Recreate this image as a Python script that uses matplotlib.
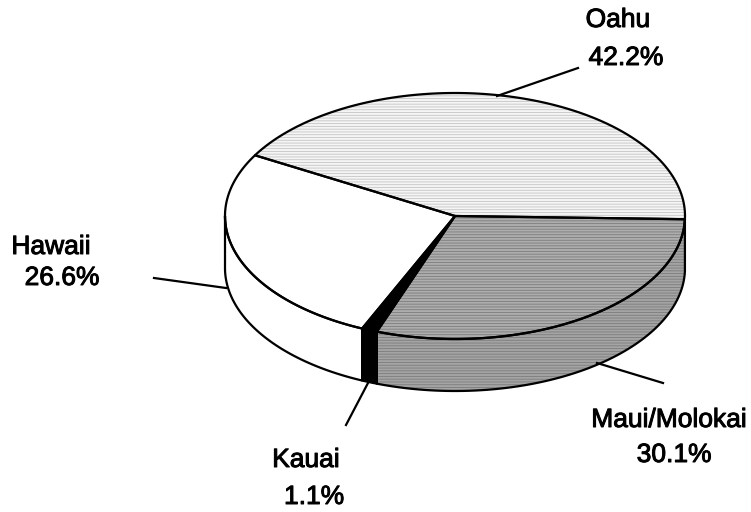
import numpy as np
import matplotlib
matplotlib.use("Agg")
import matplotlib.pyplot as plt
import matplotlib.patheffects as pe
from matplotlib.patches import Polygon

# data
regions = ["Maui/Molokai", "Kauai", "Hawaii", "Oahu"]
shares = [30.1, 1.1, 26.6, 42.2]
pct_labels = ["30.1%", "1.1%", "26.6%", "42.2%"]

# styling per slice (top face, side face, hatch colour)
top_colors = ["#adadad", "#000000", "#ffffff", "#f5f5f5"]
side_colors = ["#a4a4a4", "#000000", "#ffffff", "#ececec"]
hatch_colors = ["#7c7c7c", "#000000", "#ffffff", "#c4c4c4"]

plt.rcParams['font.family'] = ['Liberation Sans', 'DejaVu Sans']
plt.rcParams['hatch.linewidth'] = 0.6

# pie geometry in pixels
cx, cy = 455, 216
rx, ry = 230, 123
depth = 52
start = -1.5

fig = plt.figure(figsize=(7.51, 5.12), dpi=100)
ax = fig.add_axes([0, 0, 1, 1])
ax.set_xlim(0, 751)
ax.set_ylim(512, 0)
ax.axis('off')


def pt(a, dz=0):
    r = np.radians(a)
    return cx + rx * np.cos(r), cy - ry * np.sin(r) + dz


def add_face(pts, face, hatch_col, hatched):
    ax.add_patch(Polygon(pts, closed=True, facecolor=face, edgecolor=hatch_col,
                         lw=0, hatch='------' if hatched else None, zorder=2))
    ax.add_patch(Polygon(pts, closed=True, fill=False, edgecolor='black',
                         lw=1.6, joinstyle='round', zorder=3))


total = sum(shares)
ang = start
spans = []
for s in shares:
    a1 = ang - s / total * 360
    spans.append((a1, ang))
    ang = a1

# side faces (front half only, 180..360 deg)
for i, (a0, a1) in enumerate(spans):
    for off in (0, 360, -360):
        lo, hi = max(a0 + off, 180), min(a1 + off, 360)
        if hi - lo > 0.05:
            t = np.linspace(lo, hi, 80)
            top = [pt(a) for a in t]
            bot = [pt(a, depth) for a in t[::-1]]
            add_face(top + bot, side_colors[i], hatch_colors[i], i in (0, 3))

# top faces
for i, (a0, a1) in enumerate(spans):
    t = np.linspace(a0, a1, 120)
    pts = [(cx, cy)] + [pt(a) for a in t]
    add_face(pts, top_colors[i], hatch_colors[i], i in (0, 3))

# leader lines
leaders = {
    "Oahu": ((497, 96), (578, 68)),
    "Hawaii": ((226, 288), (154, 278)),
    "Maui/Molokai": ((597, 363), (663, 383)),
    "Kauai": ((368, 383), (346, 425)),
}
for (x0, y0), (x1, y1) in leaders.values():
    ax.plot([x0, x1], [y0, y1], color='black', lw=1.6, zorder=4)

# labels (name line, percent line)
name_pos = {"Oahu": (618, 20), "Hawaii": (51, 247), "Maui/Molokai": (669, 420), "Kauai": (306, 460)}
pct_pos = {"Oahu": (626, 58), "Hawaii": (62, 278), "Maui/Molokai": (674, 455), "Kauai": (314, 497)}
heavy = [pe.withStroke(linewidth=0.7, foreground='black')]
for name, pct in zip(regions, pct_labels):
    ax.text(*name_pos[name], name, fontsize=19, ha='center', va='center', path_effects=heavy)
    ax.text(*pct_pos[name], pct, fontsize=19, ha='center', va='center', path_effects=heavy)

fig.savefig("out.png", dpi=100)
